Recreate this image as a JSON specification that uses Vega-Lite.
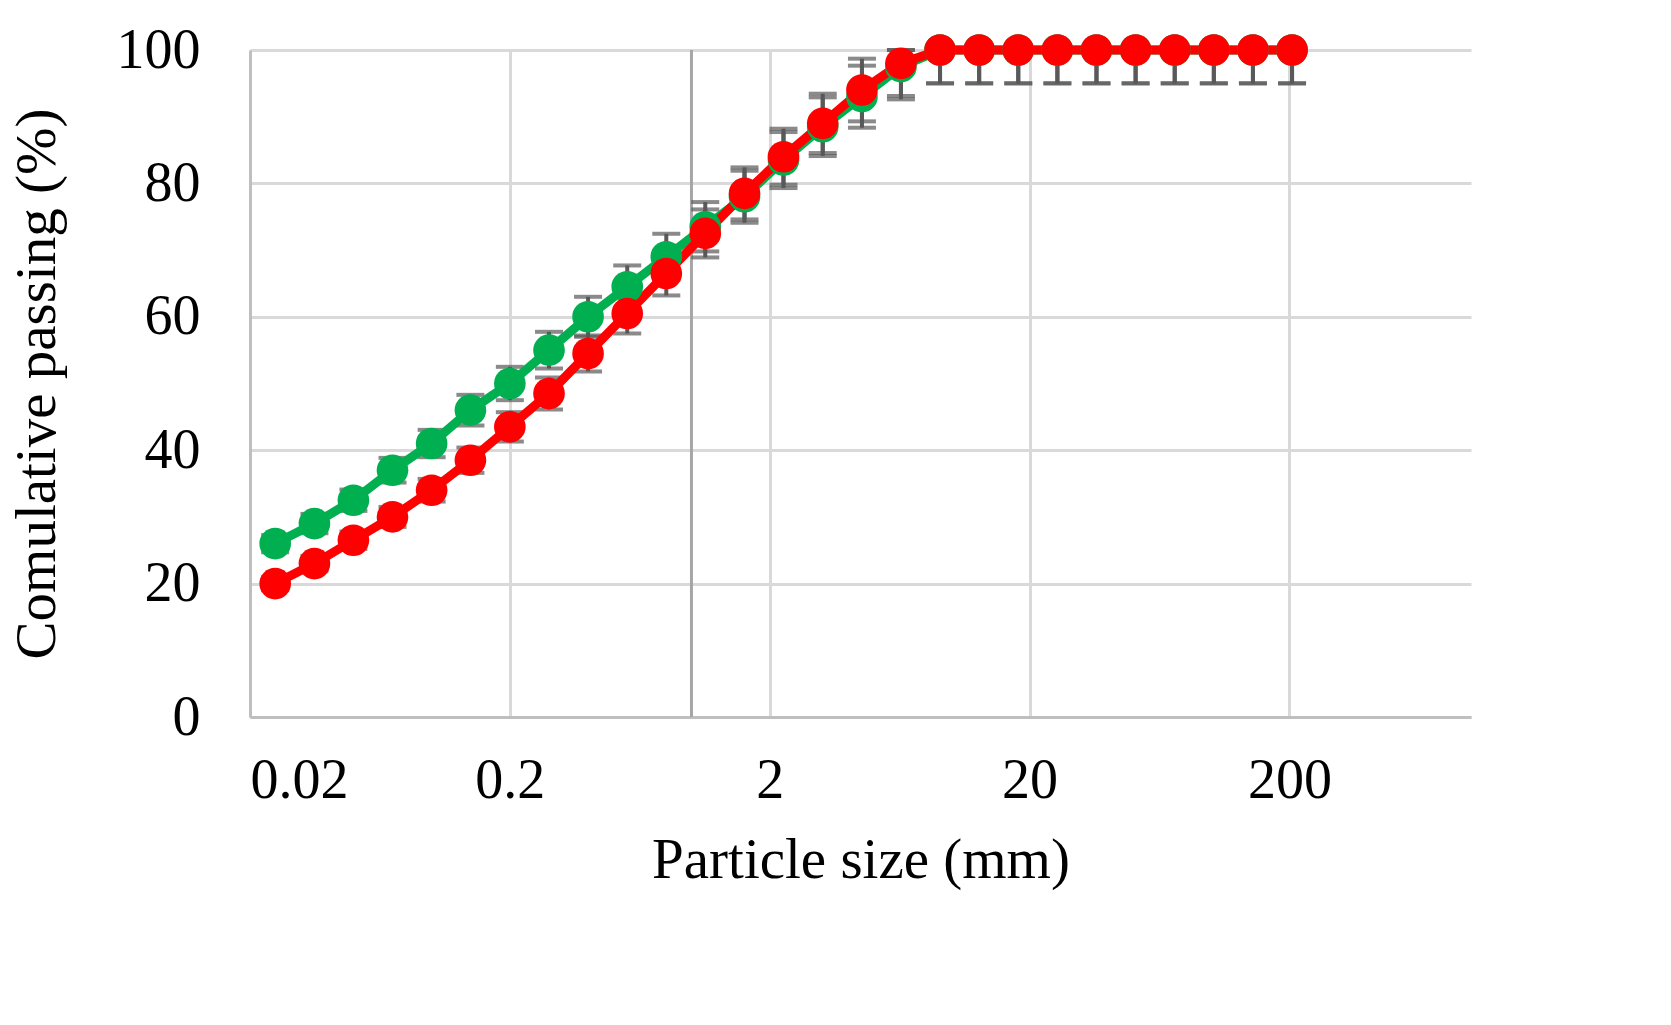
{
  "$schema": "https://vega.github.io/schema/vega-lite/v6.json",
  "autosize": "none",
  "width": 1221,
  "height": 667,
  "padding": {"left": 250, "top": 50, "right": 200, "bottom": 308},
  "background": "white",
  "config": {
    "font": "Liberation Serif",
    "view": {"stroke": null},
    "axis": {"gridColor": "#d9d9d9", "gridWidth": 3, "domainColor": "#bfbfbf", "domainWidth": 3, "ticks": false,
      "labelFont": "Liberation Serif", "labelFontSize": 56, "labelColor": "black", "labelPadding": 40,
      "titleFont": "Liberation Serif", "titleFontSize": 57, "titleFontWeight": "normal", "titleColor": "black"}
  },
  "datasets": {
    "psd": [
      {"series": "SAGmill measured data", "size": 0.025, "y": 26, "lo": 24.7, "hi": 27.3},
      {"series": "SAGmill measured data", "size": 0.0354, "y": 29, "lo": 27.55, "hi": 30.45},
      {"series": "SAGmill measured data", "size": 0.05, "y": 32.5, "lo": 30.9, "hi": 34.1},
      {"series": "SAGmill measured data", "size": 0.0707, "y": 37, "lo": 35.15, "hi": 38.85},
      {"series": "SAGmill measured data", "size": 0.1, "y": 41, "lo": 38.95, "hi": 43.05},
      {"series": "SAGmill measured data", "size": 0.141, "y": 46, "lo": 43.7, "hi": 48.3},
      {"series": "SAGmill measured data", "size": 0.2, "y": 50, "lo": 47.5, "hi": 52.5},
      {"series": "SAGmill measured data", "size": 0.283, "y": 55, "lo": 52.25, "hi": 57.75},
      {"series": "SAGmill measured data", "size": 0.4, "y": 60, "lo": 57, "hi": 63},
      {"series": "SAGmill measured data", "size": 0.566, "y": 64.5, "lo": 61.3, "hi": 67.7},
      {"series": "SAGmill measured data", "size": 0.8, "y": 69, "lo": 65.55, "hi": 72.45},
      {"series": "SAGmill measured data", "size": 1.13, "y": 73.5, "lo": 69.8, "hi": 77.2},
      {"series": "SAGmill measured data", "size": 1.6, "y": 78, "lo": 74.1, "hi": 81.9},
      {"series": "SAGmill measured data", "size": 2.26, "y": 83.5, "lo": 79.3, "hi": 87.7},
      {"series": "SAGmill measured data", "size": 3.2, "y": 88.5, "lo": 84.1, "hi": 92.9},
      {"series": "SAGmill measured data", "size": 4.53, "y": 93, "lo": 88.35, "hi": 97.65},
      {"series": "SAGmill measured data", "size": 6.4, "y": 97.5, "lo": 92.6, "hi": 100},
      {"series": "SAGmill measured data", "size": 9.05, "y": 100, "lo": 95, "hi": 100},
      {"series": "SAGmill measured data", "size": 12.8, "y": 100, "lo": 95, "hi": 100},
      {"series": "SAGmill measured data", "size": 18.1, "y": 100, "lo": 95, "hi": 100},
      {"series": "SAGmill measured data", "size": 25.6, "y": 100, "lo": 95, "hi": 100},
      {"series": "SAGmill measured data", "size": 36.2, "y": 100, "lo": 95, "hi": 100},
      {"series": "SAGmill measured data", "size": 51.2, "y": 100, "lo": 95, "hi": 100},
      {"series": "SAGmill measured data", "size": 72.4, "y": 100, "lo": 95, "hi": 100},
      {"series": "SAGmill measured data", "size": 102.4, "y": 100, "lo": 95, "hi": 100},
      {"series": "SAGmill measured data", "size": 144.8, "y": 100, "lo": 95, "hi": 100},
      {"series": "SAGmill measured data", "size": 204.8, "y": 100, "lo": 95, "hi": 100},
      {"series": "SAGmill simulated data", "size": 0.025, "y": 20, "lo": 19, "hi": 21},
      {"series": "SAGmill simulated data", "size": 0.0354, "y": 23, "lo": 21.85, "hi": 24.15},
      {"series": "SAGmill simulated data", "size": 0.05, "y": 26.5, "lo": 25.2, "hi": 27.8},
      {"series": "SAGmill simulated data", "size": 0.0707, "y": 30, "lo": 28.5, "hi": 31.5},
      {"series": "SAGmill simulated data", "size": 0.1, "y": 34, "lo": 32.3, "hi": 35.7},
      {"series": "SAGmill simulated data", "size": 0.141, "y": 38.5, "lo": 36.6, "hi": 40.4},
      {"series": "SAGmill simulated data", "size": 0.2, "y": 43.5, "lo": 41.3, "hi": 45.7},
      {"series": "SAGmill simulated data", "size": 0.283, "y": 48.5, "lo": 46.1, "hi": 50.9},
      {"series": "SAGmill simulated data", "size": 0.4, "y": 54.5, "lo": 51.8, "hi": 57.2},
      {"series": "SAGmill simulated data", "size": 0.566, "y": 60.5, "lo": 57.5, "hi": 63.5},
      {"series": "SAGmill simulated data", "size": 0.8, "y": 66.5, "lo": 63.2, "hi": 69.8},
      {"series": "SAGmill simulated data", "size": 1.13, "y": 72.5, "lo": 68.9, "hi": 76.1},
      {"series": "SAGmill simulated data", "size": 1.6, "y": 78.5, "lo": 74.6, "hi": 82.4},
      {"series": "SAGmill simulated data", "size": 2.26, "y": 84, "lo": 79.8, "hi": 88.2},
      {"series": "SAGmill simulated data", "size": 3.2, "y": 89, "lo": 84.55, "hi": 93.45},
      {"series": "SAGmill simulated data", "size": 4.53, "y": 94, "lo": 89.3, "hi": 98.7},
      {"series": "SAGmill simulated data", "size": 6.4, "y": 98, "lo": 93.1, "hi": 100},
      {"series": "SAGmill simulated data", "size": 9.05, "y": 100, "lo": 95, "hi": 100},
      {"series": "SAGmill simulated data", "size": 12.8, "y": 100, "lo": 95, "hi": 100},
      {"series": "SAGmill simulated data", "size": 18.1, "y": 100, "lo": 95, "hi": 100},
      {"series": "SAGmill simulated data", "size": 25.6, "y": 100, "lo": 95, "hi": 100},
      {"series": "SAGmill simulated data", "size": 36.2, "y": 100, "lo": 95, "hi": 100},
      {"series": "SAGmill simulated data", "size": 51.2, "y": 100, "lo": 95, "hi": 100},
      {"series": "SAGmill simulated data", "size": 72.4, "y": 100, "lo": 95, "hi": 100},
      {"series": "SAGmill simulated data", "size": 102.4, "y": 100, "lo": 95, "hi": 100},
      {"series": "SAGmill simulated data", "size": 144.8, "y": 100, "lo": 95, "hi": 100},
      {"series": "SAGmill simulated data", "size": 204.8, "y": 100, "lo": 95, "hi": 100}
    ],
    "crossing": [{"size": 1}]
  },
  "data": {"name": "psd"},
  "encoding": {
    "x": {"field": "size", "type": "quantitative",
      "scale": {"type": "log", "domain": [0.02, 1000], "nice": false},
      "axis": {"values": [0.02, 0.2, 2, 20, 200], "format": "~g", "title": "Particle size (mm)", "titlePadding": 24, "labelPadding": 36}}
  },
  "layer": [
    {
      "data": {"name": "crossing"},
      "mark": {"type": "rule", "color": "#a6a6a6", "strokeWidth": 3},
      "encoding": {"x": {"field": "size", "type": "quantitative"}}
    },
    {
      "mark": {"type": "rule", "color": "#595959", "strokeWidth": 4},
      "encoding": {
        "y": {"field": "lo", "type": "quantitative", "scale": {"domain": [0, 100]},
          "axis": {"values": [0, 20, 40, 60, 80, 100], "title": "Comulative passing (%)", "titlePadding": 50, "labelPadding": 50}},
        "y2": {"field": "hi"}
      }
    },
    {
      "mark": {"type": "tick", "orient": "horizontal", "color": "#595959", "thickness": 4, "size": 28},
      "encoding": {"y": {"field": "lo", "type": "quantitative"}}
    },
    {
      "mark": {"type": "tick", "orient": "horizontal", "color": "#595959", "thickness": 4, "size": 28},
      "encoding": {"y": {"field": "hi", "type": "quantitative"}}
    },
    {
      "mark": {"type": "line", "strokeWidth": 9},
      "encoding": {
        "y": {"field": "y", "type": "quantitative"},
        "color": {"field": "series", "type": "nominal", "legend": null,
          "scale": {"domain": ["SAGmill measured data", "SAGmill simulated data"], "range": ["#00b050", "#ff0000"]}}
      }
    },
    {
      "mark": {"type": "point", "filled": true, "opacity": 1, "size": 1000},
      "encoding": {
        "y": {"field": "y", "type": "quantitative"},
        "color": {"field": "series", "type": "nominal",
          "legend": {"orient": "none", "legendX": -170, "legendY": 835, "direction": "horizontal", "title": null,
            "symbolType": "M-1,0L1,0M-0.22,0A0.22,0.22 0 1,1 0.22,0A0.22,0.22 0 1,1 -0.22,0Z",
            "symbolSize": 26000, "symbolStrokeWidth": 8, "labelFontSize": 56, "labelColor": "black",
            "labelFont": "Liberation Serif", "labelOffset": 8, "columnPadding": 60, "symbolOpacity": 1,
            "encode": {"symbols": {"update": {"stroke": {"scale": "color", "field": "value"}}}}}}
      }
    }
  ]
}
